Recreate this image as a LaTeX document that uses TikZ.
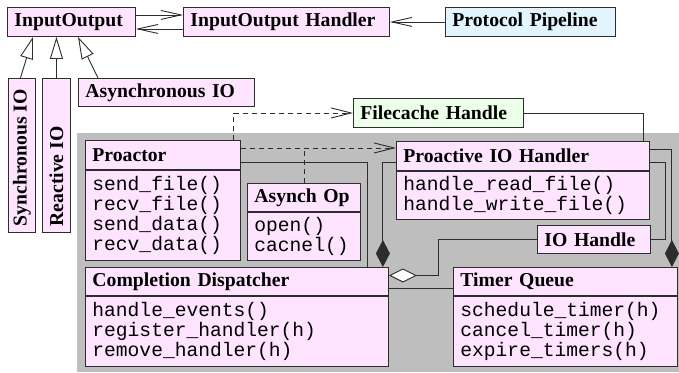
\documentclass[tikz,border=0pt]{standalone}
\usepackage{fontspec}
\usepackage{graphicx}
\setmainfont{Liberation Serif}
\newfontfamily\monofam{Liberation Mono}
\usetikzlibrary{arrows.meta}
\newcommand\ttlfont{\bfseries\fontsize{19.7}{22}\selectfont}
\newcommand\mthfont{\monofam\fontsize{19.6}{20}\selectfont}
\definecolor{pinkc}{RGB}{255,228,255}
\definecolor{cyanc}{RGB}{226,245,255}
\definecolor{greenc}{RGB}{236,255,232}
\definecolor{grayc}{RGB}{190,190,190}
\definecolor{linec}{RGB}{45,45,45}
\tikzset{
  cls/.style={draw=linec, fill=pinkc, line width=0.9pt, inner xsep=7pt, inner ysep=0pt,
    align=left, font=\ttlfont, anchor=north west},
  vcls/.style={draw=linec, fill=pinkc, line width=0.9pt, inner sep=0pt,
    font=\ttlfont, anchor=north west},
  meth/.style={cls, font=\mthfont},
  conn/.style={draw=linec, line width=0.9pt},
  assoc/.style={conn, -{Straight Barb[length=20pt,width=9pt]}},
  depend/.style={conn, dash pattern=on 5pt off 4pt, -{Straight Barb[length=20pt,width=10pt]}},
  dashline/.style={conn, dash pattern=on 5pt off 4pt},
  inherit/.style={conn, -{Triangle[fill=white,length=22pt,width=13pt]}},
  compo/.style={conn, -{Diamond[length=27pt,width=14pt]}},
  aggr/.style={conn, -{Diamond[fill=white,length=28pt,width=14pt]}},
}
\begin{document}
\begin{tikzpicture}[x=1pt,y=-1pt]
\useasboundingbox (0,0) rectangle (679,372);
\fill[grayc] (77,133) rectangle (679,372);

% top row
\node[cls, minimum width=128pt, text width=114pt, minimum height=29pt] (io) at (7,7) {InputOutput};
\node[cls, minimum width=206pt, text width=192pt, minimum height=29pt] (ioh) at (183,7) {InputOutput Handler};
\node[cls, fill=cyanc, minimum width=170pt, text width=156pt, minimum height=29pt] (pp) at (445,7) {Protocol Pipeline};

% subclasses
\node[vcls, minimum width=27pt, minimum height=154pt] (sio) at (8,78)
  {\rotatebox{90}{\makebox[142pt][l]{Synchronous IO}}};
\node[vcls, minimum width=28pt, minimum height=154pt] (rio) at (42,78)
  {\rotatebox{90}{\makebox[142pt][l]{Reactive IO}}};
\node[cls, minimum width=176pt, text width=162pt, minimum height=28pt] (aio) at (78,78) {Asynchronous IO};

\node[cls, fill=greenc, minimum width=170pt, text width=156pt, minimum height=29pt] (fch) at (353,98) {Filecache Handle};

% proactor
\node[cls, minimum width=155pt, text width=141pt, minimum height=29pt] (proactor) at (85,140) {Proactor};
\node[meth, minimum width=155pt, text width=141pt, minimum height=90pt] (proactorM) at (proactor.south west)
  {send\_file()\\recv\_file()\\send\_data()\\recv\_data()};

% asynch op
\node[cls, minimum width=113pt, text width=99pt, minimum height=28pt] (asynch) at (247,183) {Asynch Op};
\node[meth, minimum width=113pt, text width=99pt, minimum height=48pt] (asynchM) at (asynch.south west)
  {open()\\cacnel()};

% proactive io handler
\node[cls, minimum width=253pt, text width=239pt, minimum height=29pt] (pioh) at (396,141) {Proactive IO Handler};
\node[meth, minimum width=253pt, text width=239pt, minimum height=48pt] (piohM) at (pioh.south west)
  {handle\_read\_file()\\handle\_write\_file()};

\node[cls, minimum width=113pt, text width=99pt, minimum height=28pt] (ioh2) at (537,225) {IO Handle};

% completion dispatcher
\node[cls, minimum width=303pt, text width=289pt, minimum height=28pt] (cd) at (85,267) {Completion Dispatcher};
\node[meth, minimum width=303pt, text width=289pt, minimum height=70pt] (cdM) at (cd.south west)
  {handle\_events()\\register\_handler(h)\\remove\_handler(h)};

% timer queue
\node[cls, minimum width=224pt, text width=210pt, minimum height=28pt] (tq) at (453,267) {Timer Queue};
\node[meth, minimum width=224pt, text width=210pt, minimum height=70pt] (tqM) at (tq.south west)
  {schedule\_timer(h)\\cancel\_timer(h)\\expire\_timers(h)};

% connectors
\draw[assoc] ([yshift=7pt]io.east) -- ([yshift=7pt]io.east -| ioh.west);
\draw[assoc] ([yshift=-7pt]ioh.west) -- ([yshift=-7pt]ioh.west -| io.east);
\draw[assoc] (pp.west) -- (ioh.east);

\draw[inherit] ([xshift=-1.5pt]sio.north) -- ([xshift=26pt]io.south west);
\draw[inherit] (rio.north) -- (rio.north |- io.south);
\draw[inherit] ([xshift=20pt]aio.north west) -- ([xshift=71pt]io.south west);

\coordinate (dj) at ([yshift=7pt]proactor.east);
\draw[depend] ([xshift=-7pt]proactor.north east) |- (fch.west);
\draw[depend] (dj) -- (dj -| pioh.west);
\draw[dashline] (asynch.north) -- (asynch.north |- dj);

\draw[conn] (fch.east) -| ([xshift=-6pt]pioh.north east);
\draw[conn] ([yshift=-7.5pt]proactor.east) -| ([xshift=-21pt]cd.north east);
\draw[compo] ([yshift=-6.5pt]pioh.west) -| ([xshift=-6pt]cd.north east);
\draw[aggr] (ioh2.west) -- ++(-99,0) |- ([yshift=6pt]cd.east);
\draw[conn] ([yshift=-7pt]cd.east) -- ([yshift=-7pt]cd.east -| tq.west);
\draw[compo] ([yshift=6.5pt]pioh.east) -| ([xshift=-6pt]tq.north east);
\draw[conn] ([yshift=-6.5pt]pioh.east) -- ++(16,0) |- (ioh2.east);
\end{tikzpicture}
\end{document}
